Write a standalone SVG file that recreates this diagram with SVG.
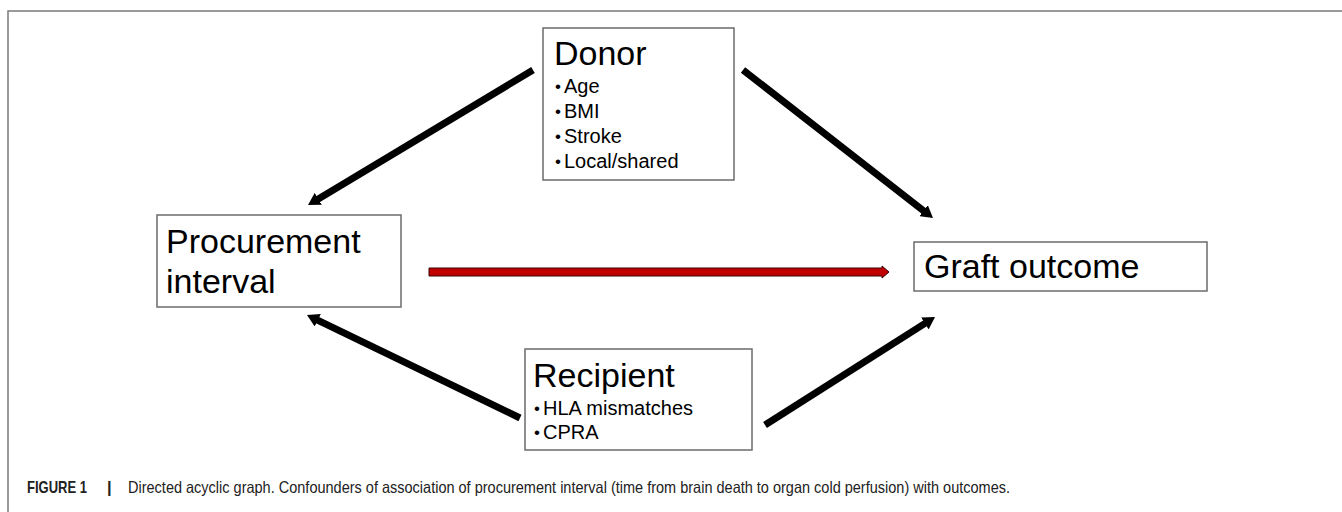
<svg xmlns="http://www.w3.org/2000/svg" width="1342" height="512" viewBox="0 0 1342 512">
  <style>
    .box { fill: #ffffff; stroke: #6b6b6b; stroke-width: 1.5; }
    .title { font-family: "Liberation Sans", Arial, sans-serif; font-size: 34px; fill: #000; }
    .item { font-family: "Liberation Sans", Arial, sans-serif; font-size: 20px; fill: #000; }
    .bul { font-family: "Liberation Sans", Arial, sans-serif; font-size: 17px; fill: #000; }
    .conn { stroke: #000; stroke-width: 7; fill: none; marker-end: url(#head); }
    .frame { stroke: #7a7a7a; stroke-width: 1.5; fill: none; }
    .cap { font-family: "Liberation Sans Narrow", "Liberation Sans", Arial, sans-serif; font-size: 16.5px; fill: #222; }
  </style>
  <defs>
    <marker id="head" markerUnits="userSpaceOnUse" markerWidth="12" markerHeight="14" viewBox="0 0 12 14" refX="2" refY="7" orient="auto">
      <path d="M0,0 L12,7 L0,14 z" fill="#000"/>
    </marker>
  </defs>
  <rect width="1342" height="512" fill="#fff"/>
  <path class="frame" d="M8,512 L8,11 L1342,11"/>

  <g id="connectors">
    <line class="conn" x1="533" y1="70" x2="316.6" y2="199.9"/>
    <line class="conn" x1="743" y1="70" x2="925.1" y2="211.9"/>
    <line class="conn" x1="520" y1="418" x2="316" y2="319.4"/>
    <line class="conn" x1="765" y1="425" x2="926.6" y2="322.4"/>
    <polygon points="429,268 882,268 882,266 889,272 882,278 882,276 429,276" fill="#c00000" stroke="#3a0000" stroke-width="1"/>
  </g>

  <g id="donor">
    <rect class="box" x="543" y="28" width="191" height="152"/>
    <text class="title" x="554" y="65">Donor</text>
    <text class="bul" x="555" y="92">•</text><text class="item" x="564" y="93">Age</text>
    <text class="bul" x="555" y="117">•</text><text class="item" x="564" y="118">BMI</text>
    <text class="bul" x="555" y="142">•</text><text class="item" x="564" y="143">Stroke</text>
    <text class="bul" x="555" y="167">•</text><text class="item" x="564" y="168">Local/shared</text>
  </g>

  <g id="procurement">
    <rect class="box" x="157" y="215" width="244" height="92"/>
    <text class="title" x="166" y="253">Procurement</text>
    <text class="title" x="166" y="293">interval</text>
  </g>

  <g id="graft">
    <rect class="box" x="914" y="242" width="293" height="49"/>
    <text class="title" x="924" y="278">Graft outcome</text>
  </g>

  <g id="recipient">
    <rect class="box" x="525" y="349" width="227" height="101"/>
    <text class="title" x="533" y="387">Recipient</text>
    <text class="bul" x="534" y="414">•</text><text class="item" x="543" y="415">HLA mismatches</text>
    <text class="bul" x="534" y="438">•</text><text class="item" x="543" y="439">CPRA</text>
  </g>

  <g id="caption">
    <text class="cap" x="27" y="493" font-weight="bold" textLength="60" lengthAdjust="spacingAndGlyphs">FIGURE 1</text>
    <text class="cap" x="107" y="493" font-weight="bold">|</text>
    <text class="cap" x="128" y="493" textLength="882" lengthAdjust="spacingAndGlyphs">Directed acyclic graph. Confounders of association of procurement interval (time from brain death to organ cold perfusion) with outcomes.</text>
  </g>
</svg>
